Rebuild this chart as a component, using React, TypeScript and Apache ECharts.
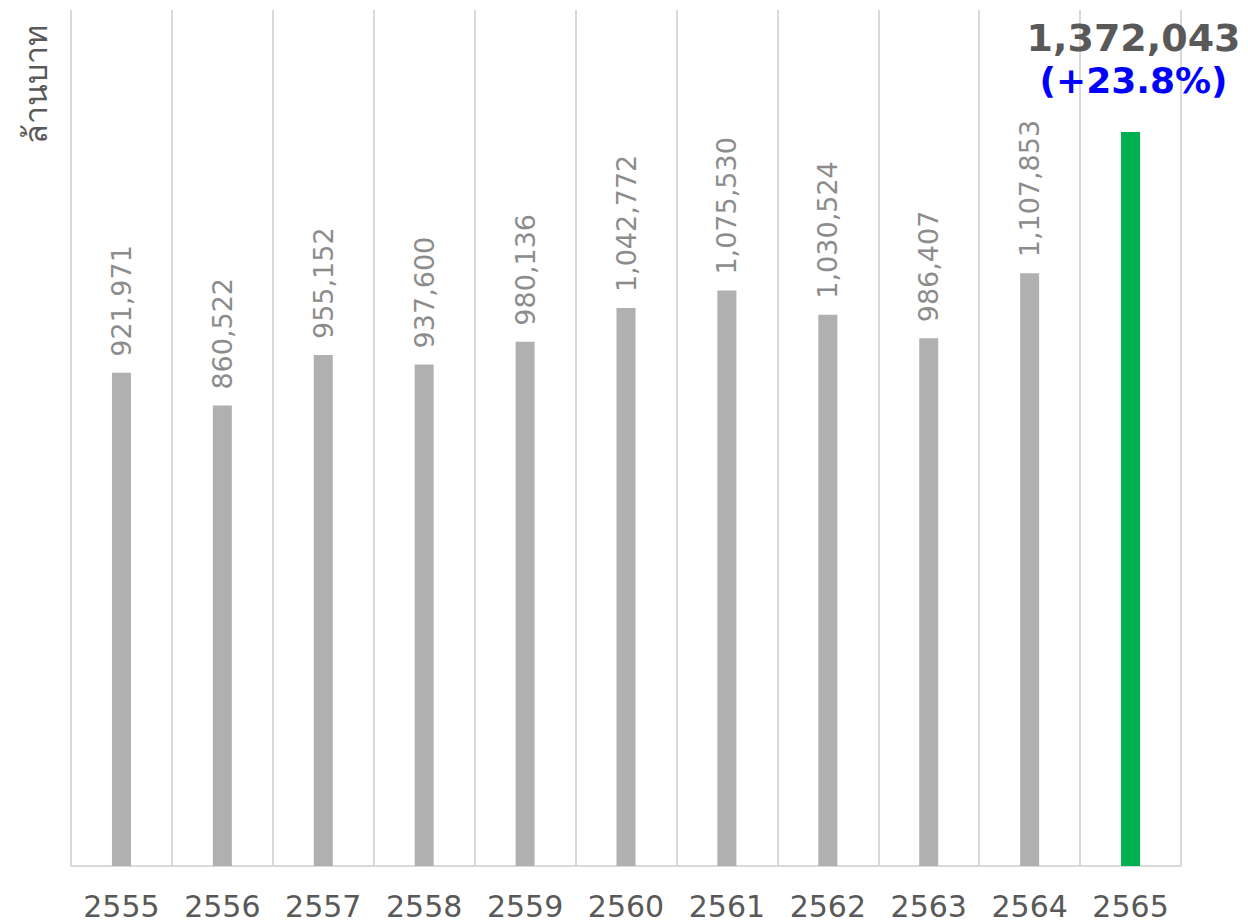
import React, { useEffect, useRef } from "react";
import * as echarts from "echarts";

const years = ["2555", "2556", "2557", "2558", "2559", "2560", "2561", "2562", "2563", "2564", "2565"];
const values = [921971, 860522, 955152, 937600, 980136, 1042772, 1075530, 1030524, 986407, 1107853, 1372043];
const lastChange = "(+23.8%)";
const yTitle = "ล้านบาท";

const fmt = (v: number) => v.toLocaleString("en-US");

export default function App() {
  const ref = useRef<HTMLDivElement>(null);
  useEffect(() => {
    document.body.style.margin = "0";
    const chart = echarts.init(ref.current!, null, { renderer: "svg" });
    const last = values.length - 1;
    chart.setOption({
      animation: false,
      backgroundColor: "#ffffff",
      grid: { left: 71, right: 67, top: 10, bottom: 57 },
      xAxis: {
        type: "category",
        data: years,
        boundaryGap: true,
        axisLine: { lineStyle: { color: "#d9d9d9", width: 2 } },
        axisTick: { show: false },
        splitLine: { show: true, lineStyle: { color: "#d9d9d9", width: 2 } },
        axisLabel: { color: "#595959", fontSize: 30, fontFamily: "DejaVu Sans", margin: 25 },
      },
      yAxis: {
        type: "value",
        min: 0,
        max: 1600000,
        show: false,
        splitLine: { show: false },
      },
      graphic: [
        {
          type: "text",
          x: 34,
          y: 84,
          rotation: Math.PI / 2,
          style: {
            text: yTitle,
            fill: "#595959",
            fontSize: 32,
            fontFamily: "Noto Sans, DejaVu Sans, sans-serif",
            align: "center",
            verticalAlign: "middle",
          },
        },
      ],
      series: [
        {
          type: "bar",
          barWidth: 19,
          data: values.map((v, i) =>
            i === last
              ? {
                  value: v,
                  itemStyle: { color: "#00b050" },
                  label: {
                    show: true,
                    position: "top",
                    rotate: 0,
                    align: "center",
                    verticalAlign: "bottom",
                    distance: 30,
                    offset: [3, 0],
                    formatter: () => `{a|${fmt(v)}}\n{b|${lastChange}}`,
                    rich: {
                      a: { fontSize: 38, fontWeight: "bold", color: "#595959", fontFamily: "DejaVu Sans", lineHeight: 44 },
                      b: { fontSize: 36, fontWeight: "bold", color: "#0000ff", fontFamily: "DejaVu Sans", lineHeight: 42 },
                    },
                  },
                }
              : { value: v }
          ),
          itemStyle: { color: "#b0b0b0" },
          label: {
            show: true,
            position: "top",
            rotate: 90,
            align: "left",
            verticalAlign: "middle",
            distance: 16,
            color: "#8c8c8c",
            fontSize: 27,
            fontFamily: "DejaVu Sans",
            formatter: (p: any) => fmt(p.value),
          },
        },
      ],
    });
    return () => chart.dispose();
  }, []);
  return <div ref={ref} style={{ position: "fixed", left: 0, top: 0, width: 1248, height: 923 }} />;
}
